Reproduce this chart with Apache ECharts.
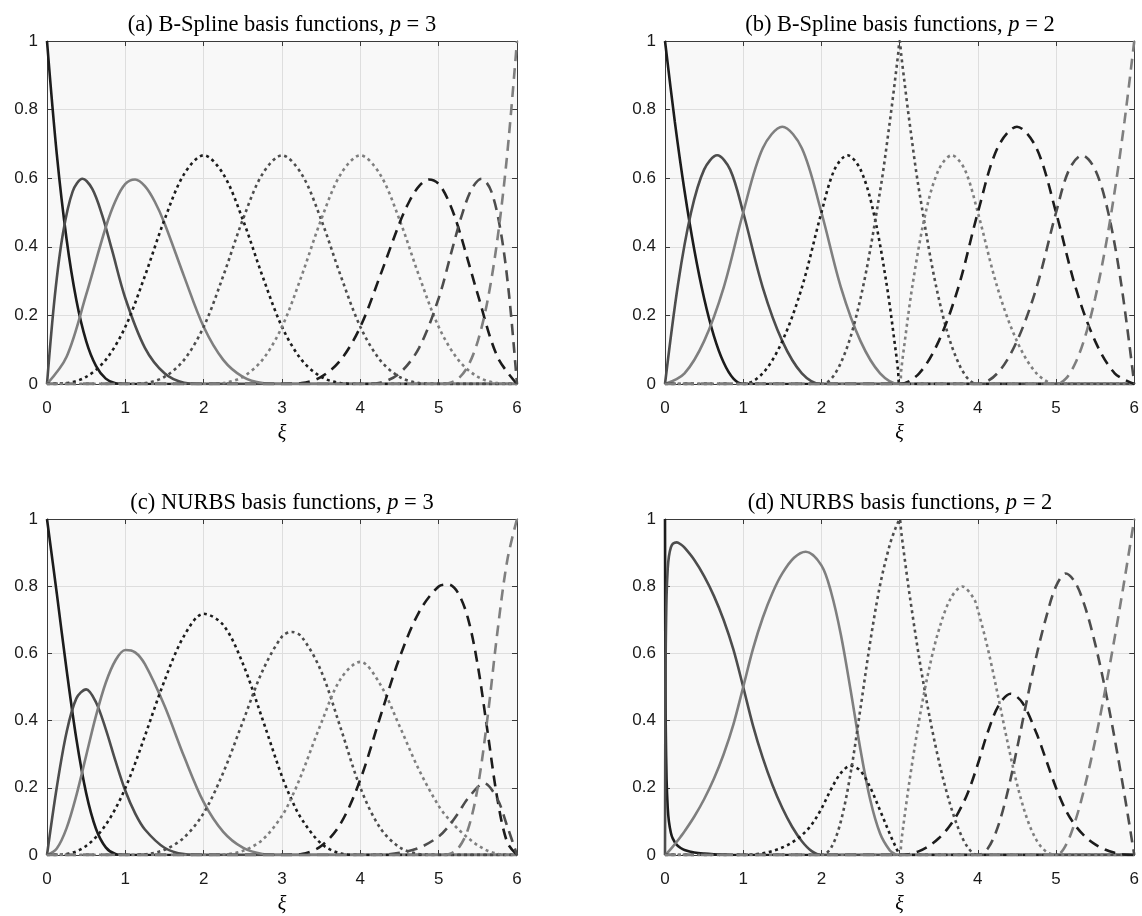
<!DOCTYPE html>
<html>
<head>
<meta charset="utf-8">
<script src="https://cdn.jsdelivr.net/npm/echarts@6/dist/echarts.min.js"></script>
<style>
html,body{margin:0;padding:0;background:#fff;}
#chart{width:1142px;height:916px;}
</style>
</head>
<body>
<div id="chart"></div>
<script>
// ---------- data: [xi, value] samples ----------
const titles = ['(a) B-Spline basis functions, ', '(b) B-Spline basis functions, ', '(c) NURBS basis functions, ', '(d) NURBS basis functions, '];
const degrees = [3, 2, 3, 2];
const xTickValues = [0, 1, 2, 3, 4, 5, 6];
const yTickValues = [0, 0.2, 0.4, 0.6, 0.8, 1];

// (a) B-spline, p = 3
const a0 = [[0,1],[0.125,0.6699],[0.25,0.4219],[0.375,0.2441],[0.5,0.125],[0.625,0.0527],[0.75,0.0156],[0.875,0.002],[1,0],[6,0]];
const a1 = [[0,0],[0.1,0.2568],[0.203,0.4382],[0.328,0.5616],[0.453,0.5982],[0.578,0.5686],[0.703,0.4931],[0.828,0.3923],[1,0.25],[1.25,0.1055],[1.5,0.0313],[1.75,0.0039],[2,0],[6,0]];
const a2 = [[0,0],[0.25,0.0794],[0.5,0.2604],[0.75,0.457],[0.875,0.5343],[1,0.5833],[1.125,0.5962],[1.25,0.5768],[1.375,0.5321],[1.5,0.4688],[1.75,0.3138],[2,0.1667],[2.25,0.0703],[2.5,0.0208],[2.75,0.0026],[3,0],[6,0]];
const a3 = [[0,0],[0.25,0.0026],[0.5,0.0208],[0.75,0.0703],[1,0.1667],[1.25,0.3151],[1.5,0.4792],[1.75,0.612],[2,0.6667],[2.25,0.612],[2.5,0.4792],[2.75,0.3151],[3,0.1667],[3.25,0.0703],[3.5,0.0208],[3.75,0.0026],[4,0],[6,0]];
const a4 = [[0,0],[1,0],[1.25,0.0026],[1.5,0.0208],[1.75,0.0703],[2,0.1667],[2.25,0.3151],[2.5,0.4792],[2.75,0.612],[3,0.6667],[3.25,0.612],[3.5,0.4792],[3.75,0.3151],[4,0.1667],[4.25,0.0703],[4.5,0.0208],[4.75,0.0026],[5,0],[6,0]];
const a5 = [[0,0],[2,0],[2.25,0.0026],[2.5,0.0208],[2.75,0.0703],[3,0.1667],[3.25,0.3151],[3.5,0.4792],[3.75,0.612],[4,0.6667],[4.25,0.612],[4.5,0.4792],[4.75,0.3151],[5,0.1667],[5.25,0.0703],[5.5,0.0208],[5.75,0.0026],[6,0]];
const a6 = [[0,0],[3,0],[3.25,0.0026],[3.5,0.0208],[3.75,0.0703],[4,0.1667],[4.25,0.3138],[4.5,0.4688],[4.625,0.5321],[4.75,0.5768],[4.875,0.5962],[5,0.5833],[5.125,0.5343],[5.25,0.457],[5.5,0.2604],[5.75,0.0794],[6,0]];
const a7 = [[0,0],[4,0],[4.25,0.0039],[4.5,0.0313],[4.75,0.1055],[5,0.25],[5.172,0.3923],[5.297,0.4931],[5.422,0.5686],[5.547,0.5982],[5.672,0.5616],[5.797,0.4382],[5.9,0.2568],[6,0]];
const a8 = [[0,0],[5,0],[5.125,0.002],[5.25,0.0156],[5.375,0.0527],[5.5,0.125],[5.625,0.2441],[5.75,0.4219],[5.875,0.6699],[6,1]];

// (b) B-spline, p = 2
const b0 = [[0,1],[0.125,0.7656],[0.25,0.5625],[0.375,0.3906],[0.5,0.25],[0.625,0.1406],[0.75,0.0625],[0.875,0.0156],[1,0],[6,0]];
const b1 = [[0,0],[0.167,0.2917],[0.333,0.5],[0.5,0.625],[0.667,0.6667],[0.833,0.625],[1,0.5],[1.25,0.2813],[1.5,0.125],[1.75,0.0313],[2,0],[6,0]];
const b2 = [[0,0],[0.25,0.0313],[0.5,0.125],[0.75,0.2813],[1,0.5],[1.25,0.6875],[1.5,0.75],[1.75,0.6875],[2,0.5],[2.25,0.2813],[2.5,0.125],[2.75,0.0313],[3,0],[6,0]];
const b3 = [[0,0],[1,0],[1.25,0.0313],[1.5,0.125],[1.75,0.2813],[2,0.5],[2.167,0.625],[2.333,0.6667],[2.5,0.625],[2.667,0.5],[2.833,0.2917],[2.95,0.0963],[2.98,0.0394],[3,0],[6,0]];
const b4 = [[0,0],[2,0],[2.25,0.0625],[2.5,0.25],[2.75,0.5625],[2.875,0.7656],[2.95,0.9025],[2.98,0.9604],[3,1],[3.02,0.9604],[3.05,0.9025],[3.125,0.7656],[3.25,0.5625],[3.5,0.25],[3.75,0.0625],[4,0],[6,0]];
const b5 = [[0,0],[3,0],[3.02,0.0394],[3.05,0.0963],[3.167,0.2917],[3.333,0.5],[3.5,0.625],[3.667,0.6667],[3.833,0.625],[4,0.5],[4.25,0.2813],[4.5,0.125],[4.75,0.0313],[5,0],[6,0]];
const b6 = [[0,0],[3,0],[3.25,0.0313],[3.5,0.125],[3.75,0.2813],[4,0.5],[4.25,0.6875],[4.5,0.75],[4.75,0.6875],[5,0.5],[5.25,0.2813],[5.5,0.125],[5.75,0.0313],[6,0]];
const b7 = [[0,0],[4,0],[4.25,0.0313],[4.5,0.125],[4.75,0.2813],[5,0.5],[5.167,0.625],[5.333,0.6667],[5.5,0.625],[5.667,0.5],[5.833,0.2917],[6,0]];
const b8 = [[0,0],[5,0],[5.125,0.0156],[5.25,0.0625],[5.375,0.1406],[5.5,0.25],[5.625,0.3906],[5.75,0.5625],[5.875,0.7656],[6,1]];

// (c) NURBS, p = 3
const c0 = [[0,1],[0.125,0.7784],[0.25,0.5514],[0.375,0.3453],[0.5,0.1841],[0.625,0.0781],[0.75,0.0227],[0.875,0.0028],[1,0],[6,0]];
const c1 = [[0,0],[0.125,0.2018],[0.25,0.3655],[0.375,0.4662],[0.5,0.493],[0.625,0.4547],[0.75,0.3746],[0.875,0.2791],[1,0.191],[1.125,0.1238],[1.25,0.0759],[1.5,0.0216],[1.75,0.0027],[2,0],[6,0]];
const c2 = [[0,0],[0.125,0.0194],[0.25,0.0801],[0.375,0.1776],[0.5,0.2959],[0.625,0.414],[0.75,0.5127],[0.875,0.5797],[1,0.6099],[1.125,0.6032],[1.25,0.5678],[1.5,0.4441],[1.75,0.2929],[2,0.1571],[2.25,0.0688],[2.5,0.0217],[2.75,0.003],[3,0],[6,0]];
const c3 = [[0,0],[0.125,0.0003],[0.25,0.003],[0.375,0.0109],[0.5,0.027],[0.625,0.0532],[0.75,0.0901],[0.875,0.1384],[1,0.1991],[1.125,0.2727],[1.25,0.3543],[1.5,0.5186],[1.75,0.6523],[2,0.7179],[2.25,0.6845],[2.5,0.5696],[2.75,0.4048],[3,0.2335],[3.125,0.1634],[3.25,0.1072],[3.5,0.0341],[3.75,0.0044],[4,0],[6,0]];
const c4 = [[0,0],[1,0],[1.25,0.002],[1.5,0.0157],[1.75,0.0521],[2,0.1249],[2.25,0.2453],[2.5,0.3964],[2.75,0.5472],[3,0.65],[3.125,0.6639],[3.25,0.6498],[3.5,0.547],[3.75,0.3768],[4,0.2005],[4.25,0.0816],[4.5,0.0232],[4.75,0.0029],[5,0],[6,0]];
const c5 = [[0,0],[2,0],[2.25,0.0015],[2.5,0.0123],[2.75,0.0451],[3,0.1165],[3.125,0.1723],[3.25,0.2399],[3.5,0.3922],[3.75,0.5247],[4,0.5749],[4.25,0.5095],[4.5,0.3839],[4.75,0.2529],[5,0.1462],[5.125,0.1078],[5.25,0.0767],[5.375,0.0507],[5.5,0.0288],[5.625,0.0127],[5.75,0.0036],[5.875,0.0003],[6,0]];
const c6 = [[0,0],[3,0],[3.25,0.0031],[3.5,0.0266],[3.75,0.0941],[4,0.2246],[4.25,0.4081],[4.5,0.5866],[4.75,0.7231],[5,0.7991],[5.125,0.8053],[5.25,0.7789],[5.375,0.7036],[5.5,0.5631],[5.625,0.3657],[5.75,0.1665],[5.875,0.0378],[6,0]];
const c7 = [[0,0],[4,0],[4.25,0.0008],[4.5,0.0063],[4.75,0.0212],[5,0.0548],[5.125,0.0848],[5.25,0.1245],[5.375,0.169],[5.58,0.2134],[5.75,0.1663],[5.875,0.0859],[6,0]];
const c8 = [[0,0],[5,0],[5.125,0.0022],[5.25,0.0199],[5.375,0.0768],[5.5,0.2028],[5.625,0.4116],[5.75,0.6637],[5.875,0.876],[6,1]];

// (d) NURBS, p = 2
const d0 = [[0,1],[0.005,0.5437],[0.01,0.3715],[0.02,0.2254],[0.035,0.1398],[0.05,0.1],[0.075,0.0664],[0.1,0.0487],[0.15,0.0303],[0.2,0.0209],[0.25,0.0152],[0.375,0.0076],[0.5,0.004],[0.625,0.002],[0.75,0.0008],[0.875,0.0002],[1,0],[6,0]];
const d1 = [[0,0],[0.005,0.456],[0.01,0.627],[0.02,0.7707],[0.035,0.8526],[0.05,0.8885],[0.075,0.9154],[0.1,0.9263],[0.15,0.9304],[0.2,0.9247],[0.25,0.9145],[0.375,0.8779],[0.5,0.83],[0.625,0.7712],[0.75,0.6994],[0.875,0.611],[1,0.5],[1.125,0.3853],[1.25,0.2888],[1.375,0.2075],[1.5,0.1397],[1.625,0.0841],[1.75,0.0409],[1.875,0.0115],[2,0],[6,0]];
const d2 = [[0,0],[0.01,0.0016],[0.05,0.0115],[0.1,0.025],[0.15,0.0393],[0.2,0.0544],[0.25,0.0703],[0.375,0.1145],[0.5,0.166],[0.625,0.2268],[0.75,0.2998],[0.875,0.3888],[1,0.5],[1.125,0.6134],[1.25,0.706],[1.375,0.7805],[1.5,0.838],[1.65,0.8845],[1.8,0.9026],[2,0.8621],[2.125,0.7812],[2.25,0.6541],[2.375,0.4883],[2.5,0.3125],[2.625,0.1635],[2.75,0.0638],[2.875,0.0134],[2.95,0.0019],[3,0],[6,0]];
const d3 = [[0,0],[1,0],[1.125,0.0013],[1.25,0.0051],[1.375,0.012],[1.5,0.0223],[1.625,0.0374],[1.75,0.0589],[1.875,0.0903],[2,0.1379],[2.125,0.1964],[2.25,0.2442],[2.375,0.2657],[2.5,0.25],[2.625,0.2006],[2.75,0.1327],[2.875,0.0625],[2.95,0.0238],[2.98,0.0093],[3,0],[6,0]];
const d4 = [[0,0],[2,0],[2.125,0.0223],[2.25,0.1017],[2.375,0.2461],[2.5,0.4375],[2.625,0.6359],[2.75,0.8036],[2.875,0.924],[2.95,0.9743],[2.98,0.9904],[3,1],[3.02,0.9624],[3.05,0.9076],[3.125,0.7783],[3.25,0.5863],[3.375,0.4211],[3.5,0.2816],[3.625,0.1673],[3.75,0.0796],[3.875,0.0216],[4,0],[6,0]];
const d5 = [[0,0],[3,0],[3.02,0.0375],[3.05,0.0919],[3.125,0.2188],[3.25,0.4022],[3.375,0.5521],[3.5,0.6687],[3.65,0.7626],[3.8,0.799],[3.95,0.7624],[4,0.7292],[4.125,0.6167],[4.25,0.4823],[4.375,0.341],[4.5,0.212],[4.625,0.1109],[4.75,0.0443],[4.875,0.0097],[5,0],[6,0]];
const d6 = [[0,0],[3,0],[3.125,0.0028],[3.25,0.0115],[3.375,0.0267],[3.5,0.0497],[3.625,0.082],[3.75,0.1264],[3.875,0.187],[4,0.2708],[4.125,0.3646],[4.27,0.4467],[4.42,0.4798],[4.57,0.4529],[4.75,0.362],[4.875,0.2815],[5,0.1997],[5.125,0.133],[5.25,0.0865],[5.375,0.054],[5.5,0.0314],[5.625,0.0162],[5.75,0.0066],[5.875,0.0015],[6,0]];
const d7 = [[0,0],[4,0],[4.125,0.0187],[4.25,0.0798],[4.375,0.1827],[4.5,0.3156],[4.625,0.4587],[4.75,0.5937],[4.875,0.7088],[5,0.8003],[5.125,0.8376],[5.25,0.8092],[5.375,0.7353],[5.5,0.6284],[5.625,0.4967],[5.75,0.3456],[5.875,0.1791],[6,0]];
const d8 = [[0,0],[5,0],[5.125,0.0294],[5.25,0.1043],[5.375,0.2108],[5.5,0.3402],[5.625,0.4871],[5.75,0.6477],[5.875,0.8193],[6,1]];

const panels = [
  [a0,a1,a2,a3,a4,a5,a6,a7,a8],
  [b0,b1,b2,b3,b4,b5,b6,b7,b8],
  [c0,c1,c2,c3,c4,c5,c6,c7,c8],
  [d0,d1,d2,d3,d4,d5,d6,d7,d8]
];

// ---------- styling ----------
const lineColors = ['#1c1c1c', '#4d4d4d', '#7f7f7f'];
const lineTypes = ['solid', [3, 3.5], [11, 7]];
const gridPos = [
  {left: 47, top: 41}, {left: 665, top: 41},
  {left: 47, top: 519}, {left: 665, top: 519}
];
const AX = '#3a3a3a';
const tickFont = 'Liberation Sans, Arial, sans-serif';
const serif = 'Liberation Serif, Times New Roman, serif';

const option = {
  animation: false,
  backgroundColor: '#ffffff',
  title: [], grid: [], xAxis: [], yAxis: [], series: []
};

panels.forEach((curves, p) => {
  const g = gridPos[p];
  option.grid.push({
    left: g.left, top: g.top, width: 470, height: 343,
    show: true, backgroundColor: '#f8f8f8', borderWidth: 0
  });
  option.title.push({
    text: titles[p] + '{i|p} = ' + degrees[p],
    left: g.left + 235, top: g.top - 27, textAlign: 'center', padding: 0,
    textStyle: {
      fontFamily: serif, fontSize: 22.5, fontWeight: 'normal', color: '#000',
      rich: {i: {fontFamily: serif, fontSize: 22.5, fontStyle: 'italic', color: '#000'}}
    }
  });
  const common = {
    type: 'value', gridIndex: p,
    axisLine: {show: true, onZero: false, lineStyle: {color: AX, width: 1}},
    axisTick: {show: true, inside: true, length: 5, lineStyle: {color: AX, width: 1}}
  };
  option.xAxis.push(Object.assign({}, common, {
    position: 'bottom', min: 0, max: 6, interval: 1,
    axisLabel: {show: true, margin: 16, fontFamily: tickFont, fontSize: 17, color: '#1a1a1a'},
    splitLine: {show: true, lineStyle: {color: '#dedede', width: 1}},
    name: 'ξ', nameLocation: 'middle', nameGap: 40,
    nameTextStyle: {fontFamily: serif, fontStyle: 'italic', fontSize: 20, color: '#000'}
  }));
  option.xAxis.push(Object.assign({}, common, {
    position: 'top', min: 0, max: 6, interval: 1,
    axisLabel: {show: false}, splitLine: {show: false}
  }));
  option.yAxis.push(Object.assign({}, common, {
    position: 'left', min: 0, max: 1, interval: 0.2,
    axisLabel: {show: true, margin: 9, fontFamily: tickFont, fontSize: 17, color: '#1a1a1a'},
    splitLine: {show: true, lineStyle: {color: '#dedede', width: 1}}
  }));
  option.yAxis.push(Object.assign({}, common, {
    position: 'right', min: 0, max: 1, interval: 0.2,
    axisLabel: {show: false}, splitLine: {show: false}
  }));
  curves.forEach((data, i) => {
    option.series.push({
      type: 'line', xAxisIndex: 2 * p, yAxisIndex: 2 * p,
      data: data, smooth: 0.33, showSymbol: false, symbol: 'none',
      lineStyle: {color: lineColors[i % 3], width: 2.6, type: lineTypes[Math.floor(i / 3)]},
      itemStyle: {color: lineColors[i % 3]},
      emphasis: {disabled: true}, z: 3
    });
  });
});

const chart = echarts.init(document.getElementById('chart'), null, {renderer: 'canvas'});
chart.setOption(option);
</script>
</body>
</html>
